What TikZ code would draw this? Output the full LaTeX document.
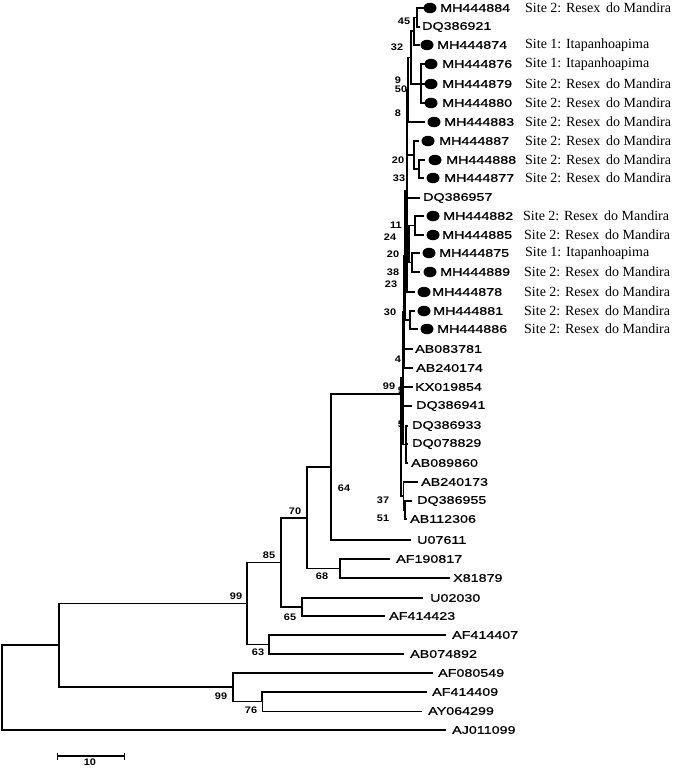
\documentclass[tikz,border=0pt]{standalone}
\usepackage{fontspec}
\usetikzlibrary{shapes.geometric}
\newfontfamily\labfont[FakeStretch=1.3,FakeBold=0.8]{Liberation Sans}
\newfontfamily\bsfont[FakeStretch=1.15]{Liberation Sans}
\newfontfamily\sitefont{Liberation Serif}
\begin{document}
\begin{tikzpicture}[x=1pt,y=-1pt,
  br/.style={line width=1.3pt},
  thinbr/.style={line width=0.6pt},
  leaf/.style={anchor=west,inner sep=0pt,font=\labfont\fontsize{11}{12}\selectfont},
  site/.style={anchor=west,inner sep=0pt,font=\sitefont\fontsize{14}{16}\selectfont},
  bs/.style={inner sep=0pt,font=\bsfont\bfseries\fontsize{9.5}{10}\selectfont},
  dotnode/.style={ellipse,fill=black,minimum width=13pt,minimum height=10.5pt,inner sep=0pt}]
\useasboundingbox (0,0) rectangle (676,768);
% ---------- leaf tips ----------
\coordinate (t1) at (424,8);
\coordinate (t2) at (420,27);
\coordinate (t3) at (420,45);
\coordinate (t4) at (425,64);
\coordinate (t5) at (425,84);
\coordinate (t6) at (425,103);
\coordinate (t7) at (425,122);
\coordinate (t8) at (419,141);
\coordinate (t9) at (425,160);
\coordinate (t10) at (424,178);
\coordinate (t11) at (420,198);
\coordinate (t12) at (424,216);
\coordinate (t13) at (424,235);
\coordinate (t14) at (420,253);
\coordinate (t15) at (420,272);
\coordinate (t16) at (415,292);
\coordinate (t17) at (415,311);
\coordinate (t18) at (418,329);
\coordinate (t19) at (413,349);
\coordinate (t20) at (413,368);
\coordinate (t21) at (413,387);
\coordinate (t22) at (412,406);
\coordinate (t23) at (408,426);
\coordinate (t24) at (408,444);
\coordinate (t25) at (408,463);
\coordinate (t26) at (418,482);
\coordinate (t27) at (412,501);
\coordinate (t28) at (407,519);
\coordinate (t29) at (411,540);
\coordinate (t30) at (390,559);
\coordinate (t31) at (450,578);
\coordinate (t32) at (423,598);
\coordinate (t33) at (385,616);
\coordinate (t34) at (446,635);
\coordinate (t35) at (404,654);
\coordinate (t36) at (433,673);
\coordinate (t37) at (427,692);
\coordinate (t38) at (422,711);
\coordinate (t39) at (446,730);
% ---------- internal nodes ----------
\coordinate (n45) at (417,17.5);
\coordinate (n32) at (414,31);
\coordinate (n50) at (421,84);
\coordinate (n9) at (411,57.5);
\coordinate (n8) at (408,90);
\coordinate (n33) at (419,169);
\coordinate (n20) at (414,155);
\coordinate (n11) at (415,225.5);
\coordinate (n38) at (412,262.5);
\coordinate (n24) at (409,244);
\coordinate (T1) at (407,191);
\coordinate (n30) at (410,320);
\coordinate (T2) at (405,255.5);
\coordinate (n4) at (404,312);
\coordinate (n5) at (406,444.5);
\coordinate (J) at (403,378);
\coordinate (K2) at (405,510);
\coordinate (K) at (403.5,496);
\coordinate (I) at (401,394);
\coordinate (G) at (331,467);
\coordinate (H) at (340,568.5);
\coordinate (E) at (307,518);
\coordinate (F) at (302,607);
\coordinate (C) at (281,562.5);
\coordinate (D) at (269,644.5);
\coordinate (B) at (247,603.5);
\coordinate (N) at (262,701.5);
\coordinate (M) at (233,687);
\coordinate (A) at (59,645);
\coordinate (R) at (2,687.5);
% ---------- branches ----------
\draw[br] (n45) |- (t1); \draw[br] (n45) |- (t2);
\draw[br] (n32) |- (n45); \draw[br] (n32) |- (t3);
\draw[br] (n50) |- (t4); \draw[br] (n50) |- (t5); \draw[br] (n50) |- (t6);
\draw[br] (n9) |- (n32); \draw[br] (n9) |- (n50);
\draw[br] (n8) |- (n9); \draw[br] (n8) |- (t7);
\draw[br] (n33) |- (t9); \draw[br] (n33) |- (t10);
\draw[br] (n20) |- (t8); \draw[br] (n20) |- (n33);
\draw[br] (n11) |- (t12); \draw[br] (n11) |- (t13);
\draw[br] (n38) |- (t14); \draw[br] (n38) |- (t15);
\draw[br] (n24) |- (n11); \draw[br] (n24) |- (n38);
\draw[br] (T1) |- (n8); \draw[br] (T1) |- (n20); \draw[br] (T1) |- (t11);
\draw[br] (T1) |- (n24); \draw[br] (T1) |- (t16);
\draw[br] (n30) |- (t17); \draw[br] (n30) |- (t18);
\draw[br] (T2) |- (T1); \draw[br] (T2) |- (n30);
\draw[br] (n4) |- (T2); \draw[br] (n4) |- (t19); \draw[br] (n4) |- (t20);
\draw[br] (n5) |- (t23); \draw[br] (n5) |- (t24); \draw[br] (n5) |- (t25);
\draw[br] (J) |- (n4); \draw[br] (J) |- (t21); \draw[br] (J) |- (t22); \draw[br] (J) |- (n5);
\draw[br] (K2) |- (t27); \draw[br] (K2) |- (t28);
\draw[br] (K) |- (t26); \draw[br] (K) |- (K2);
\draw[br] (I) |- (J); \draw[br] (I) |- (K);
\draw[br] (G) |- (I); \draw[br] (G) |- (t29);
\draw[br] (H) |- (t30); \draw[br] (H) |- (t31);
\draw[br] (E) |- (G); \draw[br] (E) |- (H);
\draw[br] (F) |- (t32); \draw[br] (F) |- (t33);
\draw[br] (C) |- (E); \draw[br] (C) |- (F);
\draw[br] (D) |- (t34); \draw[br] (D) |- (t35);
\draw[br] (B) |- (C); \draw[br] (B) |- (D);
\draw[br] (N) |- (t37); \draw[thinbr] (N) |- (t38);
\draw[br] (M) |- (t36); \draw[br] (M) |- (N);
\draw[br] (A) |- (B); \draw[br] (A) |- (M);
\draw[br] (R) |- (A); \draw[br] (R) |- (t39);
% ---------- study sequences (dots) ----------
\node[dotnode] (d1) at (430,8) {};
\node[dotnode] (d3) at (427,45) {};
\node[dotnode] (d4) at (431,64) {};
\node[dotnode] (d5) at (431,84) {};
\node[dotnode] (d6) at (431,103) {};
\node[dotnode] (d7) at (434,122) {};
\node[dotnode] (d8) at (428,141) {};
\node[dotnode] (d9) at (435,160) {};
\node[dotnode] (d10) at (433,178) {};
\node[dotnode] (d12) at (433,216) {};
\node[dotnode] (d13) at (433,235) {};
\node[dotnode] (d14) at (429,253) {};
\node[dotnode] (d15) at (430,272) {};
\node[dotnode] (d16) at (424,292) {};
\node[dotnode] (d17) at (424,311) {};
\node[dotnode] (d18) at (427,329) {};
% ---------- leaf labels ----------
\node[leaf] (L1) at (440,8) {MH444884};
\node[leaf] (L2) at (422,27) {DQ386921};
\node[leaf] (L3) at (437,45) {MH444874};
\node[leaf] (L4) at (442,64) {MH444876};
\node[leaf] (L5) at (442,84) {MH444879};
\node[leaf] (L6) at (442,103) {MH444880};
\node[leaf] (L7) at (444,122) {MH444883};
\node[leaf] (L8) at (439,141) {MH444887};
\node[leaf] (L9) at (446,160) {MH444888};
\node[leaf] (L10) at (444,178) {MH444877};
\node[leaf] (L11) at (423,198) {DQ386957};
\node[leaf] (L12) at (443,216) {MH444882};
\node[leaf] (L13) at (442,235) {MH444885};
\node[leaf] (L14) at (439,253) {MH444875};
\node[leaf] (L15) at (440,272) {MH444889};
\node[leaf] (L16) at (432,292) {MH444878};
\node[leaf] (L17) at (433,311) {MH444881};
\node[leaf] (L18) at (437,329) {MH444886};
\node[leaf] (L19) at (415,349) {AB083781};
\node[leaf] (L20) at (416,368) {AB240174};
\node[leaf] (L21) at (415,387) {KX019854};
\node[leaf] (L22) at (416,406) {DQ386941};
\node[leaf] (L23) at (412,426) {DQ386933};
\node[leaf] (L24) at (412,444) {DQ078829};
\node[leaf] (L25) at (411,463) {AB089860};
\node[leaf] (L26) at (421,482) {AB240173};
\node[leaf] (L27) at (417,501) {DQ386955};
\node[leaf] (L28) at (410,519) {AB112306};
\node[leaf] (L29) at (417,540) {U07611};
\node[leaf] (L30) at (396,559) {AF190817};
\node[leaf] (L31) at (453,578) {X81879};
\node[leaf] (L32) at (430,598) {U02030};
\node[leaf] (L33) at (389,616) {AF414423};
\node[leaf] (L34) at (452,635) {AF414407};
\node[leaf] (L35) at (410,654) {AB074892};
\node[leaf] (L36) at (438,673) {AF080549};
\node[leaf] (L37) at (432,692) {AF414409};
\node[leaf] (L38) at (428,711) {AY064299};
\node[leaf] (L39) at (452,730) {AJ011099};
% ---------- site labels ----------
\node[site] (s1) at (525,8) {Site 2: Resex\, do Mandira};
\node[site] (s3) at (525,45) {Site 1: Itapanhoapima};
\node[site] (s4) at (525,64) {Site 1: Itapanhoapima};
\node[site] (s5) at (525,84) {Site 2: Resex\, do Mandira};
\node[site] (s6) at (525,103) {Site 2: Resex\, do Mandira};
\node[site] (s7) at (525,122) {Site 2: Resex\, do Mandira};
\node[site] (s8) at (525,141) {Site 2: Resex\, do Mandira};
\node[site] (s9) at (525,160) {Site 2: Resex\, do Mandira};
\node[site] (s10) at (525,178) {Site 2: Resex\, do Mandira};
\node[site] (s12) at (523,216) {Site 2: Resex\, do Mandira};
\node[site] (s13) at (524,235) {Site 2: Resex\, do Mandira};
\node[site] (s14) at (525,253) {Site 1: Itapanhoapima};
\node[site] (s15) at (524,272) {Site 2: Resex\, do Mandira};
\node[site] (s16) at (524,292) {Site 2: Resex\, do Mandira};
\node[site] (s17) at (524,311) {Site 2: Resex\, do Mandira};
\node[site] (s18) at (524,329) {Site 2: Resex\, do Mandira};
% ---------- bootstrap values ----------
\node[bs] (b1) at (404,21) {45};
\node[bs] (b2) at (397,47) {32};
\node[bs] (b3) at (398,80) {9};
\node[bs] (b4) at (401,89) {50};
\node[bs] (b5) at (398,113) {8};
\node[bs] (b6) at (398,160) {20};
\node[bs] (b7) at (399,178) {33};
\node[bs] (b8) at (396,225) {11};
\node[bs] (b9) at (390,237) {24};
\node[bs] (b10) at (393,254) {20};
\node[bs] (b11) at (393,272) {38};
\node[bs] (b12) at (391,284) {23};
\node[bs] (b13) at (390,312) {30};
\node[bs] (b14) at (398,359) {4};
\node[bs] (b15) at (389,386) {99};
\node[bs] (b16) at (401,390) {9};
\node[bs] (b17) at (401,424) {5};
\node[bs] (b18) at (383,500) {37};
\node[bs] (b19) at (383,518) {51};
\node[bs] (b20) at (344,488) {64};
\node[bs] (b21) at (295,511) {70};
\node[bs] (b22) at (269,555) {85};
\node[bs] (b23) at (322,576) {68};
\node[bs] (b24) at (236,596) {99};
\node[bs] (b25) at (290,617) {65};
\node[bs] (b26) at (258,652) {63};
\node[bs] (b27) at (221,696) {99};
\node[bs] (b28) at (251,710) {76};
% ---------- scale bar ----------
\coordinate (sb1) at (57,756);
\coordinate (sb2) at (124,756);
\draw[line width=1.2pt] (sb1) -- (sb2);
\draw[line width=1pt] ([yshift=-3.5pt]sb1) -- ([yshift=3.5pt]sb1);
\draw[line width=1pt] ([yshift=-3.5pt]sb2) -- ([yshift=3.5pt]sb2);
\node[bs] (sbl) at (90,762.5) {10};
\end{tikzpicture}
\end{document}
